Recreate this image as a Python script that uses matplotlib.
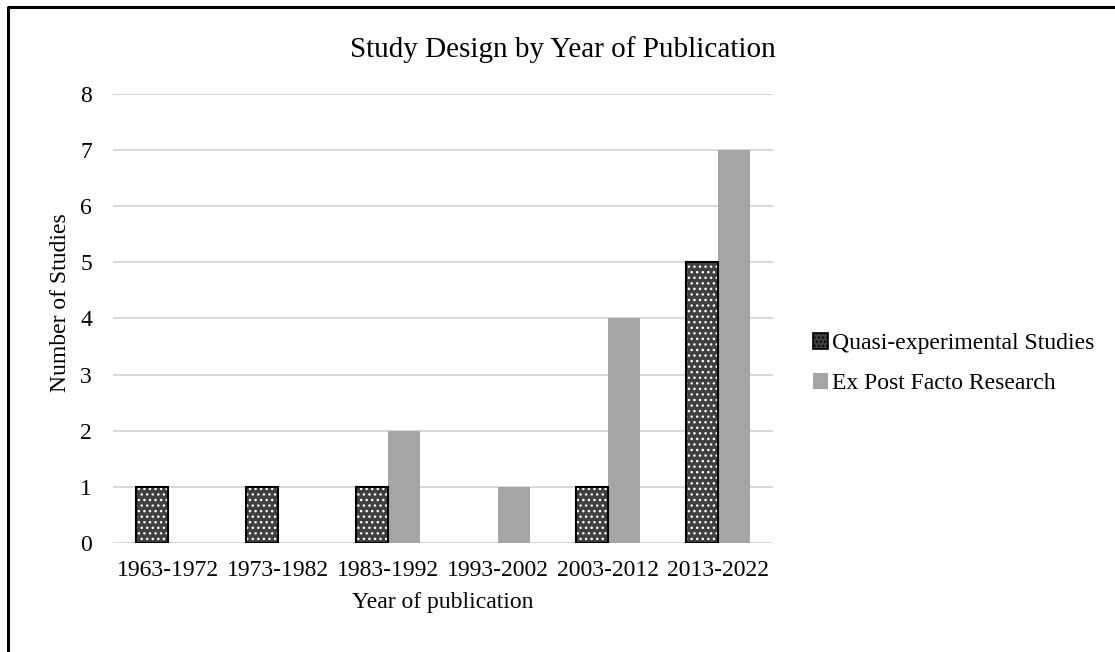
import numpy as np
import matplotlib.pyplot as plt
from matplotlib.lines import Line2D
from matplotlib.patches import Patch

plt.rcParams['font.family'] = ['Liberation Serif', 'DejaVu Serif']

periods = ["1963-1972", "1973-1982", "1983-1992", "1993-2002", "2003-2012", "2013-2022"]
quasi = [1, 1, 1, 0, 1, 5]
ex_post = [0, 0, 2, 1, 4, 7]
yticks = [0, 1, 2, 3, 4, 5, 6, 7, 8]

fig = plt.figure(figsize=(11.15, 6.52), dpi=100)
ax = fig.add_axes([0.1013, 0.1672, 0.5919, 0.6887])

x = np.arange(len(periods))
w = 0.29

# dotted dark bars: white dots on dark grey, black outline drawn on top
plt.rcParams['hatch.color'] = 'white'
plt.rcParams['hatch.linewidth'] = 1.0
q = np.array(quasi)
ax.bar(x[q > 0] - w / 2, q[q > 0], w, color='#404040', edgecolor='white',
       hatch='...', linewidth=0, zorder=3)
ax.bar(x[q > 0] - w / 2, q[q > 0], w, facecolor='none', edgecolor='black',
       linewidth=1.5, zorder=4)
e = np.array(ex_post)
ax.bar(x[e > 0] + w / 2, e[e > 0], w, color='#a5a5a5', linewidth=0, zorder=3)

ax.set_xlim(-0.5, len(periods) - 0.5)
ax.set_ylim(0, 8)
ax.set_yticks(yticks)
ax.set_xticks(x)
ax.set_xticklabels(periods)
ax.yaxis.grid(True, color='#d9d9d9', linewidth=1.5, zorder=0)
ax.set_axisbelow(True)
for s in ax.spines.values():
    s.set_visible(False)
ax.tick_params(length=0, labelsize=17, pad=12)
ax.tick_params(axis='y', pad=15)

fig.text(350 / 1115, 1 - 57 / 652, "Study Design by Year of Publication",
         fontsize=21, ha='left', va='baseline')
ax.set_xlabel("Year of publication", fontsize=17, labelpad=8)
ax.set_ylabel("Number of Studies", fontsize=17, labelpad=7)
ax.yaxis.label.set_y(0.535)

# legend swatches
handles = [Patch(facecolor='#404040', edgecolor='black', hatch='....', linewidth=1.2),
           Patch(facecolor='#a5a5a5', edgecolor='none')]
fig.legend(handles, ["Quasi-experimental Studies", "Ex Post Facto Research"],
           loc='center left', bbox_to_anchor=(0.710, 0.442), frameon=False,
           fontsize=17, handlelength=0.65, handleheight=0.65, handletextpad=0.15,
           labelspacing=0.8)

# frame around the chart (left and top edges)
fig.add_artist(Line2D([0.0075, 0.0075, 1.0], [0.0, 0.9895, 0.9895],
                      transform=fig.transFigure, color='black', linewidth=2.2))

fig.savefig("out.png", dpi=100)
